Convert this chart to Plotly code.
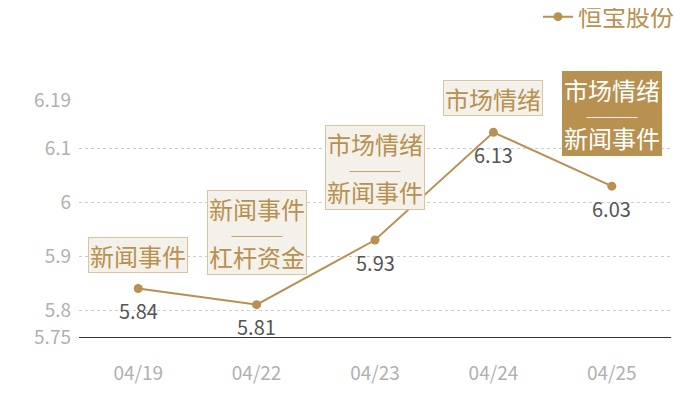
import plotly.graph_objects as go

# ---------------------------------------------------------------------------
# Data
# ---------------------------------------------------------------------------
dates = ["04/19", "04/22", "04/23", "04/24", "04/25"]
prices = [5.84, 5.81, 5.93, 6.13, 6.03]
tags = [
    ["新闻事件"],
    ["新闻事件", "杠杆资金"],
    ["市场情绪", "新闻事件"],
    ["市场情绪"],
    ["市场情绪", "新闻事件"],
]
highlight = [False, False, False, False, True]
y_ticks = [5.75, 5.8, 5.9, 6, 6.1, 6.19]
series_name = "恒宝股份"

GOLD = "#b8904f"
FONT = "Noto Sans CJK SC"

fig = go.Figure()

fig.add_trace(
    go.Scatter(
        x=dates,
        y=prices,
        mode="lines+markers",
        name=series_name,
        line=dict(color=GOLD, width=2),
        marker=dict(color=GOLD, size=9),
    )
)

# value labels under points
for d, p in zip(dates, prices):
    fig.add_annotation(
        x=d, y=p, text=f"{p:.2f}", showarrow=False,
        yshift=-22,
        font=dict(color="#555555", size=20, family=FONT),
    )

# tag boxes above each point (tight line spacing: small outer font, big spans)
sep = "<span style='font-size:17px'>───</span>"
for d, p, t, hi in zip(dates, prices, tags, highlight):
    single = len(t) == 1
    words = [f"<span style='font-size:24px'>{w}</span>" for w in t]
    fig.add_annotation(
        x=d, y=p,
        text=f"<br>{sep}<br>".join(words),
        showarrow=False,
        yanchor="bottom",
        yshift=16 if single else 30,
        width=98,
        height=34 if single else None,
        font=dict(color="white" if hi else GOLD, size=18.5, family=FONT),
        bgcolor=GOLD if hi else "#f4f0ea",
        bordercolor=GOLD if hi else "#d9c4a0",
        borderwidth=1,
        borderpad=0,
    )

fig.update_xaxes(
    type="category",
    range=[-0.5, 4.5],
    showgrid=False,
    showline=True,
    linecolor="#333333",
    linewidth=1,
    ticks="",
    ticklabelstandoff=19,
    tickfont=dict(color="#b0b0b0", size=19, family=FONT),
)
fig.update_yaxes(
    range=[5.75, 6.19],
    tickvals=y_ticks,
    ticktext=[str(v) for v in y_ticks],
    showgrid=True,
    gridcolor="#cccccc",
    griddash="dot",
    zeroline=False,
    showline=False,
    ticklabelstandoff=7,
    tickfont=dict(color="#b0b0b0", size=19, family=FONT),
)

fig.update_layout(
    width=700,
    height=400,
    margin=dict(l=71, r=37, t=92, b=71, autoexpand=False),
    plot_bgcolor="white",
    paper_bgcolor="white",
    font=dict(family=FONT),
    showlegend=True,
    legend=dict(
        x=1.0135, xanchor="right",
        y=1.35, yanchor="middle",
        font=dict(color=GOLD, size=24, family=FONT),
        bgcolor="rgba(0,0,0,0)",
    ),
)

fig.write_html("out.html")
